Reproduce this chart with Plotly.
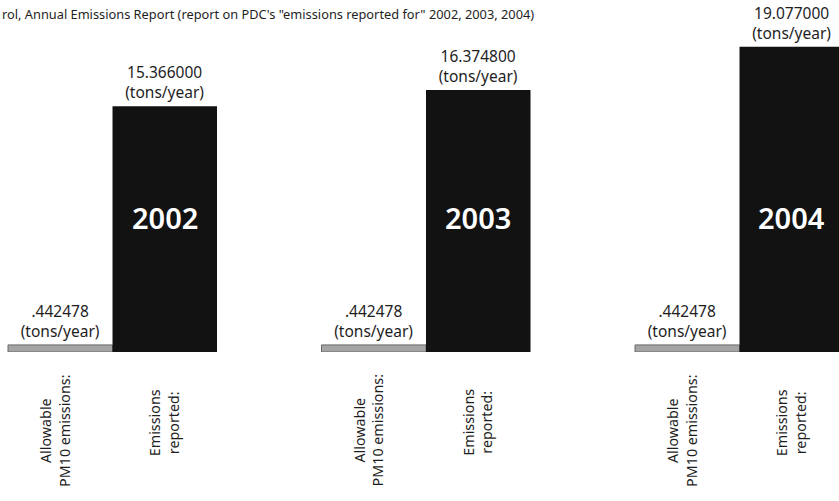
import plotly.graph_objects as go

years = ["2002", "2003", "2004"]
allowable = [0.442478, 0.442478, 0.442478]
reported = [15.366000, 16.374800, 19.077000]
title_text = "rol, Annual Emissions Report (report on PDC's \"emissions reported for\" 2002, 2003, 2004)"
cat_allow = "Allowable<br>PM10 emissions:"
cat_report = "Emissions<br>reported:"
unit = "(tons/year)"

FONT = "Noto Sans"
TXT = "#1e1e1e"

def fmt(v):
    s = f"{v:.6f}"
    if s.startswith("0."):
        s = s[1:]
    return s + "<br>" + unit

x_allow = [i * 3 for i in range(len(years))]
x_rep = [i * 3 + 1 for i in range(len(years))]

fig = go.Figure()
fig.add_trace(go.Bar(
    x=x_allow, y=allowable, width=1,
    marker=dict(color="#a4a4a4", line=dict(color="#6a6a6a", width=1)),
    text=[fmt(v) for v in allowable], textposition="outside",
    textfont=dict(family=FONT, size=15.5, color=TXT),
    cliponaxis=False, constraintext="none", hoverinfo="skip",
))
fig.add_trace(go.Bar(
    x=x_rep, y=reported, width=1,
    marker=dict(color="#121212", line=dict(width=0)),
    text=[fmt(v) for v in reported], textposition="outside",
    textfont=dict(family=FONT, size=15.5, color=TXT),
    cliponaxis=False, constraintext="none", hoverinfo="skip",
))

ann = []
for i, yr in enumerate(years):
    ann.append(dict(x=x_rep[i], y=8.4, xref="x", yref="y", text=yr,
                    showarrow=False, font=dict(family=FONT, size=29, color="white", weight=600)))
    ann.append(dict(x=x_allow[i] - 0.05, y=-0.224, xref="x", yref="paper", text=cat_allow,
                    textangle=-90, showarrow=False, align="center", yanchor="middle",
                    font=dict(family=FONT, size=14.3, color=TXT)))
    ann.append(dict(x=x_rep[i], y=-0.2, xref="x", yref="paper", text=cat_report,
                    textangle=-90, showarrow=False, align="center", yanchor="middle",
                    font=dict(family=FONT, size=14.3, color=TXT)))
ann.append(dict(x=0, y=0.96, xref="paper", yref="paper", xanchor="left", yanchor="middle",
                text=title_text, showarrow=False, font=dict(family=FONT, size=12.8, color=TXT)))

fig.update_layout(
    width=839, height=501,
    margin=dict(l=0, r=0, t=0, b=149),
    paper_bgcolor="white", plot_bgcolor="white",
    showlegend=False, barmode="overlay",
    xaxis=dict(range=[-0.5766, 7.452], visible=False, fixedrange=True),
    yaxis=dict(range=[0, 22], visible=False, fixedrange=True),
    annotations=ann,
)
fig.write_html("out.html")
